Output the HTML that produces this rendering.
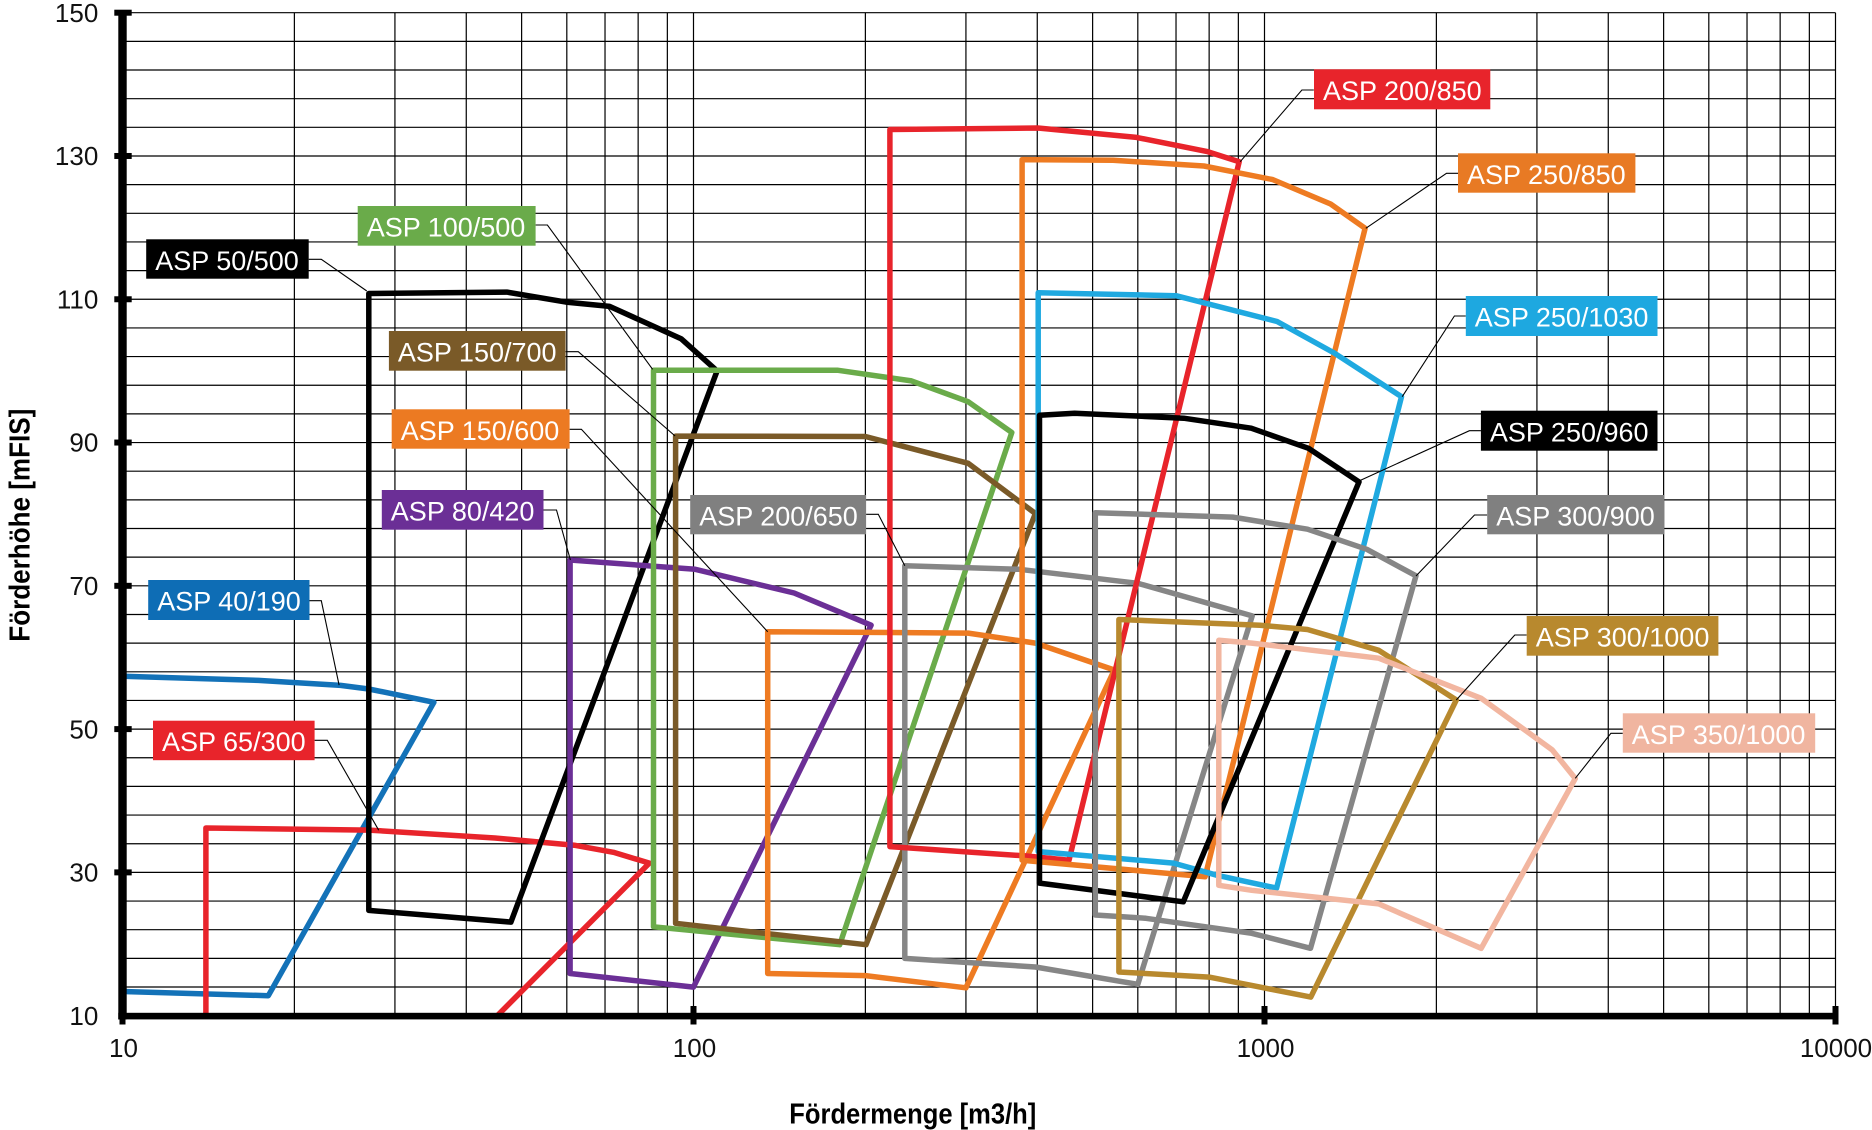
<!DOCTYPE html>
<html><head><meta charset="utf-8"><style>
html,body{margin:0;padding:0;background:#fff;}
svg{display:block;}
text{font-family:"Liberation Sans",Arial,sans-serif;}
</style></head><body>
<svg width="1872" height="1130" viewBox="0 0 1872 1130" xmlns="http://www.w3.org/2000/svg">
<rect x="0" y="0" width="1872" height="1130" fill="#fff"/>
<defs><clipPath id="pa"><rect x="122.5" y="12.7" width="1713" height="1003"/></clipPath></defs>
<!-- grid -->
<g stroke="#000" stroke-width="1.2" fill="none">
<path d="M122.5 12.7H1835.5M122.5 41.36H1835.5M122.5 70.01H1835.5M122.5 98.67H1835.5M122.5 127.32H1835.5M122.5 155.98H1835.5M122.5 184.64H1835.5M122.5 213.29H1835.5M122.5 241.95H1835.5M122.5 270.6H1835.5M122.5 299.26H1835.5M122.5 327.92H1835.5M122.5 356.57H1835.5M122.5 385.23H1835.5M122.5 413.88H1835.5M122.5 442.54H1835.5M122.5 471.2H1835.5M122.5 499.85H1835.5M122.5 528.51H1835.5M122.5 557.16H1835.5M122.5 585.82H1835.5M122.5 614.48H1835.5M122.5 643.13H1835.5M122.5 671.79H1835.5M122.5 700.44H1835.5M122.5 729.1H1835.5M122.5 757.76H1835.5M122.5 786.41H1835.5M122.5 815.07H1835.5M122.5 843.72H1835.5M122.5 872.38H1835.5M122.5 901.04H1835.5M122.5 929.69H1835.5M122.5 958.35H1835.5M122.5 987H1835.5"/>
<path d="M294.38 12.7V1015.7M394.93 12.7V1015.7M466.26 12.7V1015.7M521.62 12.7V1015.7M566.81 12.7V1015.7M605.02 12.7V1015.7M638.14 12.7V1015.7M667.35 12.7V1015.7M693.5 12.7V1015.7M865.38 12.7V1015.7M965.93 12.7V1015.7M1037.26 12.7V1015.7M1092.62 12.7V1015.7M1137.81 12.7V1015.7M1176.02 12.7V1015.7M1209.14 12.7V1015.7M1238.35 12.7V1015.7M1264.5 12.7V1015.7M1436.38 12.7V1015.7M1536.93 12.7V1015.7M1608.26 12.7V1015.7M1663.62 12.7V1015.7M1708.81 12.7V1015.7M1747.02 12.7V1015.7M1780.14 12.7V1015.7M1809.35 12.7V1015.7M1835.5 12.7V1015.7"/>
</g>
<!-- series -->
<g fill="none" stroke-width="5.5" stroke-linejoin="round" stroke-linecap="round" clip-path="url(#pa)">
<path stroke="#1372b8" d="M118 676.1L258.4 680.4L340.6 685.4L368.8 689L433.9 702.3L268.3 995.7L118 991.4"/>
<path stroke="#e8242b" d="M205.9 1020L205.9 828L368.8 830.1L494.9 838L574.2 845.2L613.4 852.3L649.4 863.1L493 1020"/>
<path stroke="#000" d="M368.8 293.5L506.8 292.1L566 302.1L609.6 306.4L681.1 338.7L717.1 370.9L510.9 922.1L368.8 910.4Z"/>
<path stroke="#6b2f96" d="M570.1 560L695.2 569.3L794.1 593L871.1 625.2L693.5 987.1L570.1 973.5Z"/>
<path stroke="#6aab4a" d="M653.5 370.2L837.3 370.2L911.5 380.9L968.2 401.7L1011.8 432.5L839.7 944.7L653.5 926.8Z"/>
<path stroke="#7a5a28" d="M675.6 436.1L865.4 436.5L968.2 463.3L1035.4 513.5L866 944.7L675.6 923.3Z"/>
<path stroke="#ee7b22" d="M767.7 631.7L968.2 633.1L1035.4 643.1L1114.3 670L965.9 987.8L865.4 975.6L767.7 973.5Z"/>
<path stroke="#868686" d="M904.8 565.8L1019.3 569.3L1137.8 583.3L1252.2 615.9L1137.8 984.3L1035.4 967L904.8 958.4Z"/>
<path stroke="#e8242b" d="M889.9 129.5L1037.9 128L1136.5 137.4L1207.9 151.7L1239.2 161.7L1069 860.2L1025.3 855.9L889.9 846.6Z"/>
<path stroke="#ee7b22" d="M1022.1 159.6L1113.1 160.3L1203.9 166L1272.8 179.6L1330.6 204L1365.1 228.3L1205.1 876.7L1022.1 860.2Z"/>
<path stroke="#1fa9e0" d="M1038.2 292.8L1176 295.7L1277.1 321.5L1334.2 353L1401.5 396.7L1276.6 888.1L1217.1 875.3L1173.5 863.1L1038.2 851.6Z"/>
<path stroke="#000" d="M1039.5 415.3L1074.6 413.2L1183.7 418.2L1251.2 428.2L1308.5 448.3L1359 481.9L1183.3 901.8L1039.5 883.1Z"/>
<path stroke="#868686" d="M1095.3 512.7L1232.8 517.1L1307.5 529.2L1366.8 549.3L1416 575.8L1310.5 948.3L1251.7 933.3L1145.9 918.3L1095.3 915Z"/>
<path stroke="#b8892e" d="M1118.9 619.5L1260 625.2L1307.5 629.5L1378.7 650.3L1456.3 700L1310.8 997.1L1260 987.1L1209.1 977.1L1118.9 972Z"/>
<path stroke="#f2b6a0" d="M1218.8 640.3L1251.7 643.1L1378.7 658.2L1481.2 698.3L1552.2 749.9L1575.3 778.5L1481.2 948.3L1378.7 903.9L1251.7 890.3L1218.8 885.3Z"/>
</g>
<!-- axes -->
<rect x="118.3" y="10" width="8.4" height="1009.5" fill="#000"/>
<rect x="118.3" y="1012.8" width="1720.2" height="6.6" fill="#000"/>
<g fill="#000">
<rect x="114.3" y="9.7" width="17.4" height="6"/>
<rect x="114.3" y="152.98" width="17.4" height="6"/>
<rect x="114.3" y="296.26" width="17.4" height="6"/>
<rect x="114.3" y="439.54" width="17.4" height="6"/>
<rect x="114.3" y="582.82" width="17.4" height="6"/>
<rect x="114.3" y="726.1" width="17.4" height="6"/>
<rect x="114.3" y="869.38" width="17.4" height="6"/>
<rect x="119.5" y="1006" width="6" height="18.5"/>
<rect x="690.5" y="1006" width="6" height="18.5"/>
<rect x="1261.5" y="1006" width="6" height="18.5"/>
<rect x="1832.5" y="1006" width="6" height="18.5"/>
</g>
<!-- tick labels -->
<g font-size="26" fill="#111" text-anchor="end">
<text x="98.3" y="21.9">150</text>
<text x="98.3" y="165.2">130</text>
<text x="98.3" y="308.5">110</text>
<text x="98.3" y="451.7">90</text>
<text x="98.3" y="595">70</text>
<text x="98.3" y="738.3">50</text>
<text x="98.3" y="881.6">30</text>
<text x="98.3" y="1024.9">10</text>
</g>
<g font-size="26" fill="#111" text-anchor="middle">
<text x="123.5" y="1057">10</text>
<text x="694.5" y="1057">100</text>
<text x="1265.5" y="1057">1000</text>
<text x="1836" y="1057">10000</text>
</g>
<!-- axis titles -->
<text x="789.3" y="1123.3" font-size="29" font-weight="bold" fill="#000" textLength="247" lengthAdjust="spacingAndGlyphs">Fördermenge [m3/h]</text>
<text transform="translate(29.5,641.7) rotate(-90)" x="0" y="0" font-size="29" font-weight="bold" fill="#000" textLength="233" lengthAdjust="spacingAndGlyphs">Förderhöhe [mFIS]</text>
<!-- leaders -->
<g fill="none" stroke="#000" stroke-width="1.1">
<path d="M1313.8 90H1301.9L1240.2 161.7"/>
<path d="M1458 173.3H1446.5L1365.8 228.3"/>
<path d="M1465.8 316H1454.4L1402.2 396.7"/>
<path d="M1480.9 430.7H1469.4L1359.5 480.7"/>
<path d="M1487.2 515H1474.5L1416 576"/>
<path d="M1526.7 635H1514.8L1456.3 700"/>
<path d="M1622.8 733.3H1610.9L1575.3 778.3"/>
<path d="M308.7 259.3H321.3L366.8 291"/>
<path d="M535.6 225H547.4L652.6 369.3"/>
<path d="M565.6 351.7H578.3L675.1 436"/>
<path d="M569.6 429.3H581.4L767.7 631.7"/>
<path d="M543.5 510H556.5L570.4 560"/>
<path d="M309.5 600.7H321.3L339.1 685.1"/>
<path d="M314.6 740.3H327.3L378.7 830.2"/>
<path d="M866.1 514.3H878.3L904.8 565.7"/>
</g>
<!-- label boxes -->
<rect x="1314" y="69.3" width="176.3" height="40" fill="#e8242b"/>
<rect x="1458" y="153.3" width="177.4" height="39.4" fill="#e87a24"/>
<rect x="1465.8" y="296" width="191.7" height="40" fill="#1ea8e0"/>
<rect x="1480.9" y="410.7" width="176.6" height="40" fill="#000"/>
<rect x="1487.2" y="495" width="177.1" height="39.3" fill="#808080"/>
<rect x="1526.7" y="616" width="191.7" height="39.7" fill="#b8892e"/>
<rect x="1622.8" y="713.3" width="192.4" height="39.4" fill="#f0b5a0"/>
<rect x="146.2" y="239.3" width="162.5" height="39.4" fill="#000"/>
<rect x="357.7" y="206" width="177.9" height="39.7" fill="#6aab4a"/>
<rect x="388.9" y="331" width="176.7" height="39.7" fill="#7a5a28"/>
<rect x="391.7" y="409.3" width="177.9" height="39.4" fill="#ec7a22"/>
<rect x="381.8" y="490" width="161.7" height="39.7" fill="#6b2f96"/>
<rect x="148.2" y="580" width="161.3" height="40" fill="#0e6db5"/>
<rect x="153" y="720.7" width="161.6" height="39.5" fill="#e8242b"/>
<rect x="690.2" y="495" width="175.9" height="39.3" fill="#808080"/>
<g font-size="27" fill="#fff">
<text x="1323" y="100">ASP 200/850</text>
<text x="1467" y="184">ASP 250/850</text>
<text x="1474.8" y="326.7">ASP 250/1030</text>
<text x="1489.9" y="441.4">ASP 250/960</text>
<text x="1496.2" y="525.6">ASP 300/900</text>
<text x="1535.7" y="646.6">ASP 300/1000</text>
<text x="1631.8" y="744">ASP 350/1000</text>
<text x="155.2" y="270">ASP 50/500</text>
<text x="366.7" y="236.6">ASP 100/500</text>
<text x="397.9" y="361.6">ASP 150/700</text>
<text x="400.7" y="440">ASP 150/600</text>
<text x="390.8" y="520.6">ASP 80/420</text>
<text x="157.2" y="610.7">ASP 40/190</text>
<text x="162" y="751.2">ASP 65/300</text>
<text x="699.2" y="525.6">ASP 200/650</text>
</g>
</svg>
</body></html>
